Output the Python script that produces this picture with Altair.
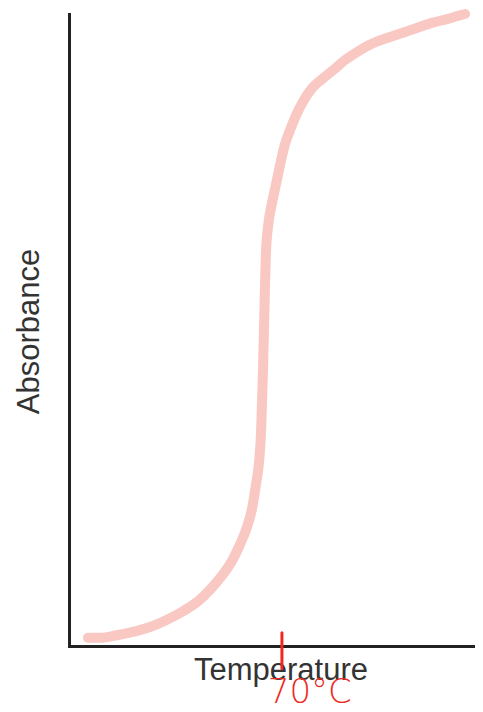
import altair as alt
import pandas as pd

# Curve: temperature (arbitrary units, 70 marked) vs absorbance (normalised)
temperature = [29.0, 31.6, 35.1, 39.0, 42.1, 45.3, 49.1, 52.3, 54.8, 57.3, 59.4,
               61.1, 62.6, 63.7, 64.5, 65.2, 65.6, 65.8, 66.0, 66.2, 66.4, 66.6,
               67.1, 67.9, 68.7, 69.6, 70.6, 71.7, 73.0, 74.5, 76.4, 78.5, 80.8,
               83.3, 85.9, 89.0, 92.2, 95.4, 98.5, 101.7, 104.9, 107.2, 108.7]
absorbance = [0.013, 0.013, 0.017, 0.023, 0.030, 0.040, 0.055, 0.071, 0.089, 0.111, 0.134,
              0.160, 0.188, 0.218, 0.255, 0.294, 0.342, 0.389, 0.437, 0.500, 0.563, 0.619,
              0.666, 0.701, 0.729, 0.761, 0.793, 0.816, 0.840, 0.862, 0.883, 0.897, 0.911,
              0.927, 0.940, 0.953, 0.962, 0.970, 0.978, 0.986, 0.992, 0.997, 1.000]

# Hand-drawn annotation
mark_temp = [70.0]
mark_y_top = [0.021]
mark_y_bottom = [-0.036]
label_temp = [75.9]
label_y = [-0.090]
label_text = ["70°C"]

x_domain = [25, 110.8]
y_domain = [0, 1]

curve_df = pd.DataFrame({"Temperature": temperature, "Absorbance": absorbance})
tick_df = pd.DataFrame({"t": mark_temp, "y1": mark_y_top, "y2": mark_y_bottom})
label_df = pd.DataFrame({"t": label_temp, "y": label_y, "text": label_text})

xs = alt.Scale(domain=x_domain, nice=False, zero=False)
ys = alt.Scale(domain=y_domain, nice=False, zero=False)

curve = alt.Chart(curve_df).mark_line(
    color="#f9c8c3", strokeWidth=10, strokeCap="round", strokeJoin="round",
    interpolate="monotone", clip=False
).encode(
    x=alt.X("Temperature:Q", scale=xs,
            axis=alt.Axis(title="Temperature", labels=False, ticks=False, grid=False,
                          domainColor="#222222", domainWidth=3, domainCap="square",
                          titleFontSize=31, titleFont="Liberation Sans", titleFontWeight="normal",
                          titleColor="#333333", titleX=211.5, titleY=33,
                          titleBaseline="alphabetic", titleAlign="center", titleAnchor="start")),
    y=alt.Y("Absorbance:Q", scale=ys,
            axis=alt.Axis(title="Absorbance", labels=False, ticks=False, grid=False,
                          domainColor="#222222", domainWidth=3, domainCap="square",
                          titleFontSize=31, titleFont="Liberation Sans", titleFontWeight="normal",
                          titleColor="#333333", titleX=-31, titleY=317, titleAngle=270,
                          titleBaseline="alphabetic", titleAlign="center", titleAnchor="start")),
)

tick = alt.Chart(tick_df).mark_rule(color="#ee2a1f", strokeWidth=3, strokeCap="round", clip=False).encode(
    x=alt.X("t:Q", scale=xs),
    y=alt.Y("y1:Q", scale=ys),
    y2="y2:Q",
)

label = alt.Chart(label_df).mark_text(
    color="#ee2a1f", fontSize=34, font="DejaVu Sans", fontWeight=300,
    align="center", baseline="alphabetic", clip=False
).encode(
    x=alt.X("t:Q", scale=xs),
    y=alt.Y("y:Q", scale=ys),
    text="text:N",
)

chart = alt.layer(curve, tick, label).properties(
    width=406, height=632,
    background="white",
    autosize=alt.AutoSizeParams(type="none"),
    padding={"left": 61, "top": 6, "right": 0, "bottom": 58},
).configure_view(stroke=None)

chart.save("out.html", embed_options={"renderer": "svg", "actions": False})
